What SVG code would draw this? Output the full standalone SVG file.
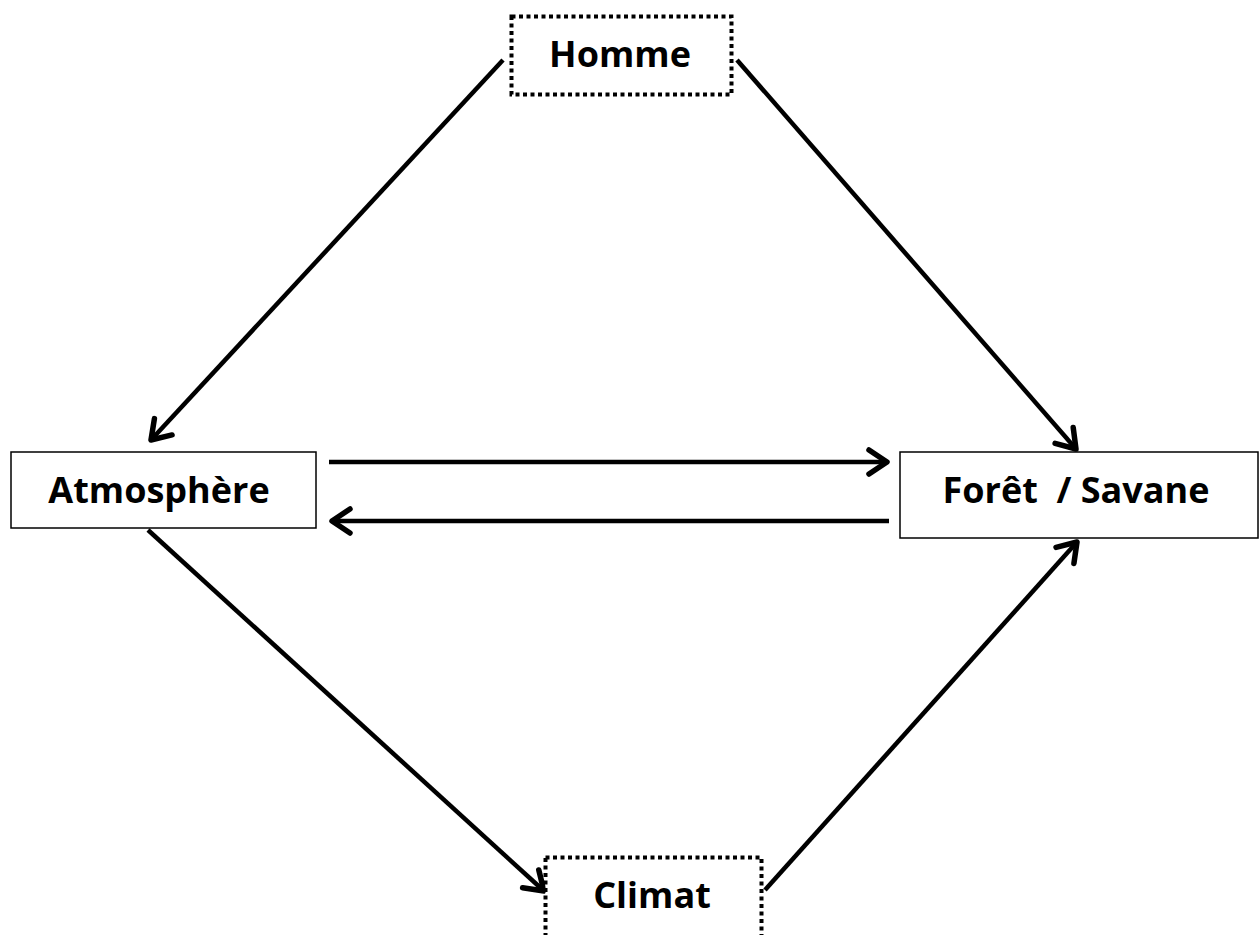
<svg xmlns="http://www.w3.org/2000/svg" width="1259" height="935" viewBox="0 0 1259 935">
<style>
.solid{fill:#fff;stroke:#000;stroke-width:1.5}
.dotted{fill:#fff;stroke:#000;stroke-width:4;stroke-dasharray:4 3.5}
.lbl{font-family:"Open Sans","Noto Sans",sans-serif;font-weight:700;font-size:36px;fill:#000;text-anchor:middle}
.conn{stroke:#000;stroke-width:4.5;fill:none;marker-end:url(#ah)}
</style>
<defs>
<marker id="ah" markerUnits="userSpaceOnUse" markerWidth="32" markerHeight="32" viewBox="-24 -16 28 32" refX="0" refY="0" orient="auto">
<polyline points="-18,-12 0,0 -18,12" fill="none" stroke="#000" stroke-width="5.5" stroke-linecap="round" stroke-linejoin="round"/>
</marker>
</defs>
<rect width="1259" height="935" fill="#fff"/>
<g id="connectors">
<line class="conn" x1="503" y1="60" x2="151" y2="440"/>
<line class="conn" x1="737" y1="60" x2="1076" y2="449"/>
<line class="conn" x1="329" y1="462" x2="887" y2="462"/>
<line class="conn" x1="889" y1="521" x2="332" y2="521"/>
<line class="conn" x1="148" y1="530" x2="544" y2="891"/>
<line class="conn" x1="765" y1="890" x2="1077" y2="542"/>
</g>
<g id="homme">
<rect class="dotted" x="511.5" y="16.5" width="220" height="78"/>
<text class="lbl" x="620" y="67">Homme</text>
</g>
<g id="atmosphere">
<rect class="solid" x="11" y="452" width="305" height="76"/>
<text class="lbl" x="159" y="503">Atmosphère</text>
</g>
<g id="foret">
<rect class="solid" x="900" y="452" width="358" height="86"/>
<text class="lbl" x="1076" y="503">Forêt&#160; / Savane</text>
</g>
<g id="climat">
<rect class="dotted" x="545.5" y="857.5" width="216" height="90"/>
<text class="lbl" x="652" y="908">Climat</text>
</g>
</svg>
